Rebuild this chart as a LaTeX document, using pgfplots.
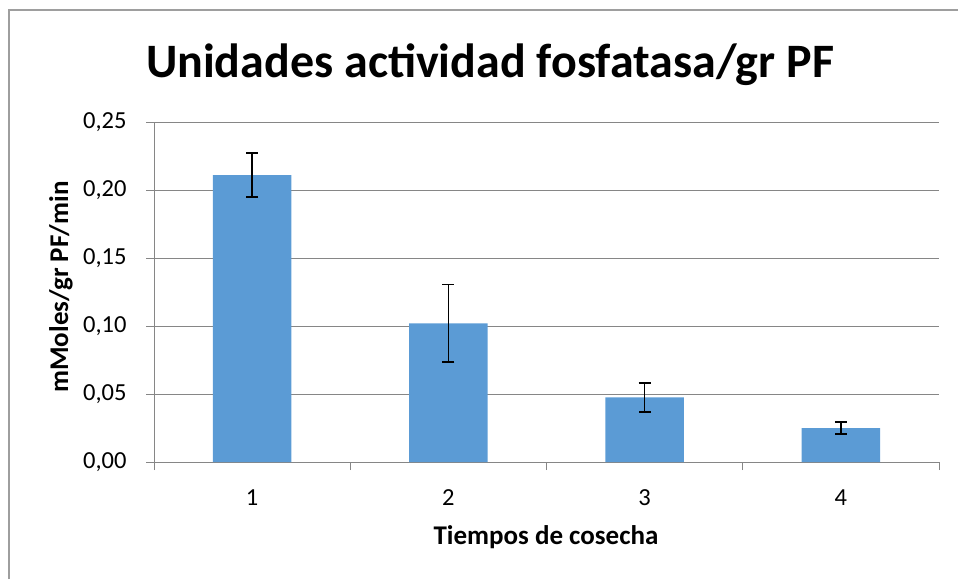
\documentclass[border=0pt]{standalone}
\usepackage{fontspec}
\setmainfont{Carlito}
\usepackage{pgfplots}
\pgfplotsset{compat=1.18}
\definecolor{barblue}{HTML}{5B9BD5}
\definecolor{gridgray}{HTML}{868686}
\begin{document}
\begin{tikzpicture}[x=1pt,y=1pt]
\useasboundingbox (0,0) rectangle (958,579);
\draw[color=gridgray!80, line width=1.2pt] (9,0) -- (9,569) -- (958,569);
\begin{axis}[
  at={(154pt,117pt)}, anchor=south west,
  scale only axis, width=785pt, height=340pt,
  xmin=0.5, xmax=4.5, ymin=0, ymax=0.25,
  axis x line*=bottom, axis y line*=left,
  axis line style={gridgray, line width=1pt, -},
  ybar, bar width=0.4,
  xtick={1,2,3,4}, xticklabels={1,2,3,4},
  minor xtick={0.5,1.5,2.5,3.5,4.5},
  ytick={0,0.05,0.1,0.15,0.2,0.25},
  tick align=outside,
  major tick length=8pt, minor tick length=8pt,
  major x tick style={draw=none},
  tick style={gridgray, line width=1pt},
  ymajorgrids, grid style={gridgray, line width=1pt},
  ticklabel style={font=\fontsize{24.5}{24.5}\selectfont, text=black},
  yticklabel style={xshift=-16pt, /pgf/number format/.cd, fixed, fixed zerofill, precision=2, use comma, assume math mode=true},
  xticklabel style={yshift=-16pt, /pgf/number format/assume math mode=true},
  clip=false,
]
\addplot[fill=barblue, draw=none,
  error bars/.cd, y dir=both, y explicit,
  error bar style={black, line width=1.6pt},
  error mark options={rotate=90, mark size=6pt, black, line width=1.6pt}]
  coordinates {
   (1,0.211) +- (0,0.016)
   (2,0.102) +- (0,0.0285)
   (3,0.0475) +- (0,0.0107)
   (4,0.025) +- (0,0.0043)
  };
\end{axis}
\node[anchor=base, font=\bfseries\fontsize{48}{48}\selectfont] at (490,501) {Unidades actividad fosfatasa/gr PF};
\node[anchor=base, font=\bfseries\fontsize{27}{27}\selectfont] at (546,35) {Tiempos de cosecha};
\node[anchor=base, rotate=90, font=\bfseries\fontsize{27}{27}\selectfont] at (68,292) {mMoles/gr PF/min};
\end{tikzpicture}
\end{document}
